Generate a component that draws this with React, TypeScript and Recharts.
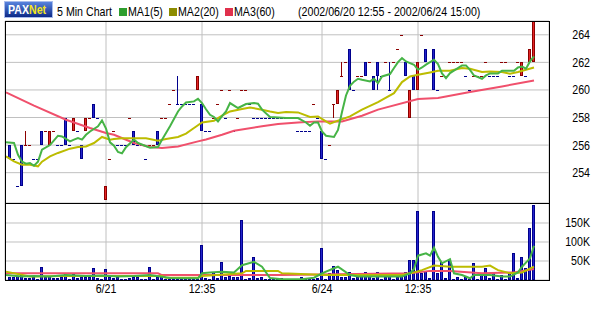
import { ComposedChart, Bar, Line, XAxis, YAxis, CartesianGrid } from 'recharts';

// bar index of the session gridlines and their labels
const sessionTicks = [24, 48, 78, 102];
const sessionLabels = ['6/21', '12:35', '6/24', '12:35'];
const priceTicks = [254, 256, 258, 260, 262, 264];
const volumeTicks = [50, 100, 150]; // thousands
const legendNames = ['MA1(5)', 'MA2(20)', 'MA3(60)'];
const chartTitle = '5 Min Chart';
const periodText = '(2002/06/20 12:55 - 2002/06/24 15:00)';

// [open, high, low, close] for each 5 min bar
const ohlc: [number, number, number, number][] = [
  // 6/20
  [256, 256, 255, 255], [255, 255, 255, 255], [253, 253, 253, 253], [256, 256, 253, 253],
  [256, 257, 256, 256], [256, 256, 256, 256], [255, 255, 255, 255], [255, 255, 255, 255],
  [257, 257, 256, 256], [257, 257, 257, 257], [256, 257, 256, 257], [257, 257, 257, 257],
  [256, 256, 256, 256], [256, 256, 256, 256], [258, 258, 256, 256], [256, 256, 256, 256],
  [257, 258, 257, 258], [257, 257, 257, 257], [256, 256, 255, 255], [257, 258, 257, 258],
  [258, 258, 258, 258], [259, 259, 258, 258], [258, 258, 258, 258], [257, 257, 257, 257],
  // 6/21 (24)
  [252, 253, 252, 253], [255, 255, 255, 255], [257, 257, 257, 257], [256, 256, 256, 256],
  [256, 256, 256, 256], [256, 256, 256, 256], [258, 258, 258, 258], [257, 257, 256, 256],
  [256, 256, 256, 256], [256, 256, 256, 256], [255, 255, 255, 255], [256, 256, 256, 256],
  [256, 256, 256, 256], [257, 257, 256, 256], [258, 258, 258, 258], [258, 258, 258, 258],
  [259, 259, 259, 259], [260, 260, 260, 260], [259, 261, 259, 259], [259, 259, 259, 259],
  [259, 259, 259, 259], [259, 259, 259, 259], [259, 259, 259, 259], [260, 261, 260, 261],
  [259, 259, 257, 257], [257, 257, 257, 257], [257, 257, 257, 257], [258, 258, 258, 258],
  [259, 259, 259, 259], [260, 260, 260, 260], [258, 258, 258, 258], [260, 260, 260, 260],
  [257, 257, 257, 257], [258, 258, 258, 258], [260, 260, 260, 260], [260, 260, 260, 260],
  [259, 259, 259, 259], [258, 258, 258, 258], [258, 258, 258, 258], [258, 258, 258, 258],
  [258, 258, 258, 258], [258, 258, 258, 258], [258, 258, 258, 258], [258, 258, 258, 258],
  [258, 258, 258, 258], [258, 258, 258, 258], [258, 258, 258, 258], [258, 258, 258, 258],
  [257, 257, 257, 257], [257, 257, 257, 257], [257, 257, 257, 257], [257, 257, 257, 257],
  [259, 259, 259, 259], [258, 258, 258, 258],
  // 6/24 (78)
  [257, 257, 255, 255], [255, 255, 255, 255], [256, 256, 256, 256], [259, 259, 258, 259],
  [259, 260, 259, 260], [261, 262, 261, 261], [262, 262, 262, 262], [263, 263, 260, 260],
  [260, 260, 260, 260], [261, 261, 261, 261], [261, 261, 261, 261], [262, 262, 261, 261],
  [262, 262, 262, 262], [261, 261, 260, 260], [262, 262, 260, 261], [261, 261, 261, 261],
  [262, 262, 262, 262], [260, 262, 260, 260], [262, 262, 262, 262], [263, 263, 263, 263],
  [264, 264, 264, 264], [262, 262, 261, 261], [258, 260, 258, 260], [261, 261, 260, 260],
  [260, 262, 260, 262], [264, 264, 264, 264], [263, 263, 262, 262], [262, 262, 262, 262],
  [263, 263, 260, 260], [260, 260, 260, 260], [261, 261, 261, 261], [261, 261, 261, 261],
  [262, 262, 262, 262], [262, 262, 262, 262], [262, 262, 262, 262], [262, 262, 262, 262],
  [261, 261, 261, 261], [260, 260, 260, 260], [261, 261, 261, 261], [261, 261, 261, 261],
  [261, 261, 261, 261], [262, 262, 262, 262], [261, 261, 261, 261], [261, 261, 261, 261],
  [261, 261, 261, 261], [262, 262, 262, 262], [262, 262, 262, 262], [261, 261, 261, 261],
  [261, 261, 261, 261], [262, 262, 262, 262], [261, 262, 261, 262], [261, 261, 261, 261],
  [262, 263, 262, 263], [262, 265, 262, 265],
];

// volume per bar, thousands
const volumes = [
  9, 7, 10, 12, 6, 4, 9, 3, 34, 8,
  10, 4, 5, 8, 16, 3, 16, 6, 8, 9,
  7, 31, 5, 3, 29, 8, 6, 9, 3, 2,
  4, 8, 7, 2, 3, 34, 2, 7, 8, 2,
  3, 5, 6, 4, 2, 3, 2, 3, 92, 5,
  3, 22, 5, 48, 9, 10, 8, 9, 158, 2,
  6, 61, 4, 8, 3, 2, 3, 2, 4, 2,
  3, 2, 3, 9, 2, 3, 2, 4, 85, 3,
  18, 38, 26, 9, 9, 20, 4, 9, 13, 20,
  13, 5, 20, 3, 9, 13, 3, 9, 13, 20,
  53, 53, 182, 18, 24, 5, 182, 18, 48, 5,
  55, 3, 9, 2, 9, 3, 44, 2, 13, 31,
  4, 18, 3, 13, 3, 18, 70, 4, 61, 32,
  136, 197,
];

// moving averages: [bar index, value]
const ma5: [number, number][] = [
  [-1, 256.2], [1, 256.15], [2, 255.3], [3, 254.8], [4, 254.65], [5, 254.7], [6, 254.5], [7, 254.8],
  [8, 255.67], [10, 256.0], [11, 256.34], [12, 256.68], [13, 256.63], [15, 256.27], [16, 256.4],
  [17, 256.51], [18, 256.4], [19, 256.75], [20, 256.99], [22, 257.36], [23, 257.79], [24, 257.2],
  [25, 256.2], [26, 255.95], [27, 255.5], [28, 255.4], [29, 255.85], [31, 256.4], [32, 256.15],
  [35, 255.81], [37, 255.86], [38, 256.39], [40, 257.36], [42, 258.44], [43, 258.8], [44, 259.09],
  [46, 259.17], [47, 259.36], [48, 259.05], [49, 258.6], [50, 258.2], [51, 258.04], [52, 257.72],
  [53, 258.1], [54, 258.44], [55, 259.05], [57, 258.69], [59, 258.98], [61, 259.05], [62, 259.0],
  [63, 258.57], [65, 258.04], [69, 257.96], [72, 257.96], [74, 257.64], [75, 257.4], [76, 257.64],
  [77, 257.64], [78, 256.99], [79, 256.68], [81, 256.59], [82, 257.1], [83, 258.4], [84, 259.6],
  [85, 260.3], [86, 260.6], [87, 260.81], [88, 260.74], [90, 260.62], [91, 260.81], [92, 260.5],
  [93, 260.98], [95, 261.15], [96, 261.59], [97, 262.02], [98, 262.31], [99, 262.07], [101, 261.83],
  [102, 261.46], [103, 261.63], [104, 261.83], [106, 262.19], [107, 261.88], [108, 261.2],
  [109, 260.86], [110, 261.22], [113, 261.78], [114, 261.78], [115, 261.46], [116, 261.05],
  [118, 260.81], [119, 261.05], [120, 261.2], [122, 261.2], [123, 261.39], [126, 261.39],
  [127, 261.63], [128, 261.7], [129, 261.54], [130, 262.07], [131, 262.43],
];
const ma20: [number, number][] = [
  [-1, 255.18], [1, 254.82], [3, 254.58], [5, 254.58], [7, 254.46], [8, 254.8], [10, 255.18],
  [12, 255.43], [15, 255.74], [17, 255.86], [19, 255.9], [21, 256.15], [23, 256.59], [25, 256.39],
  [26, 256.44], [28, 256.49], [31, 256.49], [34, 256.49], [37, 256.32], [39, 256.44], [42, 256.59],
  [44, 256.83], [46, 257.24], [48, 257.64], [51, 257.77], [53, 258.13], [55, 258.44], [58, 258.62],
  [60, 258.73], [63, 258.57], [65, 258.44], [67, 258.33], [69, 258.4], [72, 258.37], [75, 258.04],
  [77, 258.08], [79, 257.72], [80, 257.55], [82, 257.77], [85, 258.08], [88, 258.57], [92, 259.12],
  [96, 259.77], [98, 260.57], [100, 260.98], [102, 261.1], [105, 261.27], [107, 261.39],
  [110, 261.39], [113, 261.59], [115, 261.54], [118, 261.3], [120, 261.34], [123, 261.3],
  [125, 261.17], [127, 261.3], [129, 261.46], [131, 261.63],
];
const ma60: [number, number][] = [
  [-1, 259.82], [6, 258.86], [14, 257.84], [20, 257.24], [24, 256.88], [26, 256.75], [31, 256.15],
  [35, 255.86], [38, 255.79], [42, 255.9], [47, 256.27], [49, 256.4], [53, 256.75], [56, 257.04],
  [63, 257.36], [67, 257.53], [72, 257.64], [77, 257.72], [83, 257.72], [88, 258.13], [92, 258.57],
  [102, 259.34], [107, 259.41], [115, 259.85], [123, 260.25], [131, 260.69],
];
const volMa5: [number, number][] = [
  [-1, 13], [3, 9], [6, 10.5], [10, 9], [14, 13], [19, 10.5], [23, 12], [27, 9], [31, 10.5],
  [35, 13], [40, 5], [44, 4.5], [47, 4.5], [48, 17.6], [50, 20], [53, 22], [56, 20], [58, 39],
  [61, 48], [63, 35], [65, 5], [68, 2], [73, 2], [76, 6], [78, 17.6], [81, 31], [82, 35], [85, 13],
  [87, 9], [93, 9], [98, 9], [100, 17.6], [101, 29], [102, 64], [104, 70], [105, 64], [106, 85],
  [107, 61], [108, 44], [110, 55], [111, 17.6], [113, 13], [115, 4.5], [116, 13], [120, 13],
  [123, 9], [125, 9], [127, 20], [128, 35], [130, 57], [131, 90],
];
const volMa20: [number, number][] = [
  [-1, 22], [5, 9], [13, 10.5], [23, 10.5], [38, 10.5], [39, 6], [47, 6], [48, 10.5], [58, 17.6],
  [59, 24], [67, 24], [68, 17.6], [79, 13], [98, 13], [101, 20], [103, 26], [106, 38], [110, 35],
  [118, 35], [120, 38], [122, 26], [125, 17.6], [128, 20], [131, 35],
];
const volMa60: [number, number][] = [
  [-1, 17.6], [37, 17.6], [38, 13], [68, 13], [100, 17.6], [105, 24], [110, 24], [118, 17.6],
  [126, 20], [131, 29],
];

const FONT = "'Liberation Sans', Arial, sans-serif";
const X_DOMAIN: [number, number] = [-1.25, 134.75];
const UP_FILL = '#e42626';
const UP_LINE = '#8c0000';
const DOWN_FILL = '#2424cc';
const DOWN_LINE = '#00008c';
const GRID = '#c0c0c0';
const MA_COLORS = ['#46b446', '#bcbc00', '#f0506c'];
const LEGEND_COLORS = ['#2e9e2e', '#8c8c00', '#e0304c'];

// red when rising, blue when falling; flat bars follow the previous close
const rows = (() => {
  let prevClose = ohlc[0][3];
  let prevUp = false;
  return ohlc.map(([o, h, l, c], i) => {
    let up = prevUp;
    if (c > o) up = true;
    else if (c < o) up = false;
    else if (c > prevClose) up = true;
    else if (c < prevClose) up = false;
    prevClose = c;
    prevUp = up;
    return { i, o, h, l, c, up, range: [l, h], vol: volumes[i] };
  });
})();

const toPoints = (list: [number, number][]) => list.map(([i, v]) => ({ i, v }));

// the original uses a narrow bitmap font, so squeeze the text horizontally
function NarrowText({ x, y, anchor = 'start', size = 13, weight, fill = '#000', children }: any) {
  return (
    <text transform={`translate(${x} ${y}) scale(0.82 1)`} textAnchor={anchor} fontSize={size}
      fontFamily={FONT} fontWeight={weight} fill={fill}>
      {children}
    </text>
  );
}

function Candle(props: any) {
  const { x, y, width, height, payload } = props;
  const { o, h, l, c, up } = payload;
  const cx = Math.floor(x + width / 2) + 0.5;
  const dark = up ? UP_LINE : DOWN_LINE;
  const unit = h > l ? height / (h - l) : 0;
  const py = (v: number) => Math.round(y + (h - v) * unit);
  const top = py(Math.max(o, c));
  const bottom = py(Math.min(o, c));
  return (
    <g>
      {h > l && (
        <line x1={cx} x2={cx} y1={py(h)} y2={py(l)} stroke={dark} strokeWidth={1} />
      )}
      {o === c ? (
        <rect x={cx - 1.5} y={top} width={3} height={1} fill={dark} />
      ) : (
        <rect
          x={cx - 1}
          y={top + 0.5}
          width={2}
          height={Math.max(bottom - top - 1, 0)}
          fill={up ? UP_FILL : DOWN_FILL}
          stroke={dark}
          strokeWidth={1}
        />
      )}
    </g>
  );
}

function VolumeBar(props: any) {
  const { x, y, width, height } = props;
  const cx = Math.floor(x + width / 2) + 0.5;
  const top = Math.round(y);
  const h = Math.round(y + height) - top;
  if (h <= 0) return null;
  return (
    <rect x={cx - 1} y={top + 0.5} width={2} height={Math.max(h - 0.5, 0.5)}
      fill={DOWN_FILL} stroke={DOWN_LINE} strokeWidth={1} />
  );
}

function PriceTick({ y, payload }: any) {
  return <NarrowText x={590} y={y + 4.5} anchor="end">{payload.value}</NarrowText>;
}

function VolumeTick({ y, payload }: any) {
  return <NarrowText x={590} y={y + 4.5} anchor="end">{`${payload.value}K`}</NarrowText>;
}

function TimeTick({ x, payload }: any) {
  const label = sessionLabels[sessionTicks.indexOf(payload.value)];
  return <NarrowText x={x} y={90} anchor="middle">{label}</NarrowText>;
}

function Header() {
  const legendX = [119, 169, 225];
  return (
    <svg width={600} height={21} style={{ position: 'absolute', left: 0, top: 0 }}>
      <defs>
        <linearGradient id="paxlogo" x1="0" y1="0" x2="0" y2="1">
          <stop offset="0" stopColor="#5a86e0" />
          <stop offset="1" stopColor="#0a2684" />
        </linearGradient>
      </defs>
      <rect x={4.5} y={1.5} width={48} height={16} fill="url(#paxlogo)" stroke="#a8bcec" />
      <NarrowText x={8} y={14} size={13} weight="bold" fill="#fff">PAX</NarrowText>
      <NarrowText x={29} y={14} size={13} weight="bold" fill="#f4e41c">Net</NarrowText>
      <NarrowText x={57} y={16}>{chartTitle}</NarrowText>
      {legendNames.map((name, k) => (
        <g key={name}>
          <rect x={legendX[k]} y={8} width={8} height={8} fill={LEGEND_COLORS[k]} />
          <NarrowText x={legendX[k] + 9} y={16}>{name}</NarrowText>
        </g>
      ))}
      <NarrowText x={298} y={16}>{periodText}</NarrowText>
    </svg>
  );
}

export default function App() {
  const lineProps = { dataKey: 'v', dot: false, activeDot: false, isAnimationActive: false, strokeWidth: 2 } as const;
  return (
    <div style={{ position: 'absolute', left: 0, top: 0, width: 600, height: 312, background: '#fff', overflow: 'hidden' }}>
      <Header />
      <div style={{ position: 'absolute', left: 0, top: 0 }}>
        <ComposedChart width={600} height={204} data={rows} margin={{ top: 21, right: 0, bottom: 1, left: 5 }}>
          <CartesianGrid stroke={GRID} strokeWidth={1} />
          <XAxis dataKey="i" type="number" domain={X_DOMAIN} ticks={sessionTicks} allowDataOverflow hide />
          <YAxis orientation="right" width={51} domain={[251.8, 265]} ticks={priceTicks} allowDataOverflow
            axisLine={false} tickLine={false} tick={<PriceTick />} interval={0} />
          <Line data={toPoints(ma60)} stroke={MA_COLORS[2]} {...lineProps} />
          <Line data={toPoints(ma20)} stroke={MA_COLORS[1]} {...lineProps} />
          <Line data={toPoints(ma5)} stroke={MA_COLORS[0]} {...lineProps} />
          <Bar dataKey="range" barSize={3} shape={<Candle />} isAnimationActive={false} />
        </ComposedChart>
      </div>
      <div style={{ position: 'absolute', left: 0, top: 203 }}>
        <ComposedChart width={600} height={109} data={rows} margin={{ top: 0, right: 0, bottom: 12, left: 5 }}>
          <CartesianGrid stroke={GRID} strokeWidth={1} />
          <XAxis dataKey="i" type="number" domain={X_DOMAIN} ticks={sessionTicks} allowDataOverflow height={20}
            axisLine={false} tickLine={false} tick={<TimeTick />} interval={0} />
          <YAxis orientation="right" width={51} domain={[0, 202.6]} ticks={volumeTicks} allowDataOverflow
            axisLine={false} tickLine={false} tick={<VolumeTick />} interval={0} />
          <Bar dataKey="vol" barSize={3} shape={<VolumeBar />} isAnimationActive={false} />
          <Line data={toPoints(volMa60)} stroke={MA_COLORS[2]} {...lineProps} />
          <Line data={toPoints(volMa20)} stroke={MA_COLORS[1]} {...lineProps} />
          <Line data={toPoints(volMa5)} stroke={MA_COLORS[0]} {...lineProps} />
        </ComposedChart>
      </div>
      <div style={{ position: 'absolute', left: 5, top: 21, width: 545, height: 183, border: '1px solid #000', boxSizing: 'border-box', pointerEvents: 'none' }} />
      <div style={{ position: 'absolute', left: 5, top: 203, width: 545, height: 78, border: '1px solid #000', boxSizing: 'border-box', pointerEvents: 'none' }} />
    </div>
  );
}
